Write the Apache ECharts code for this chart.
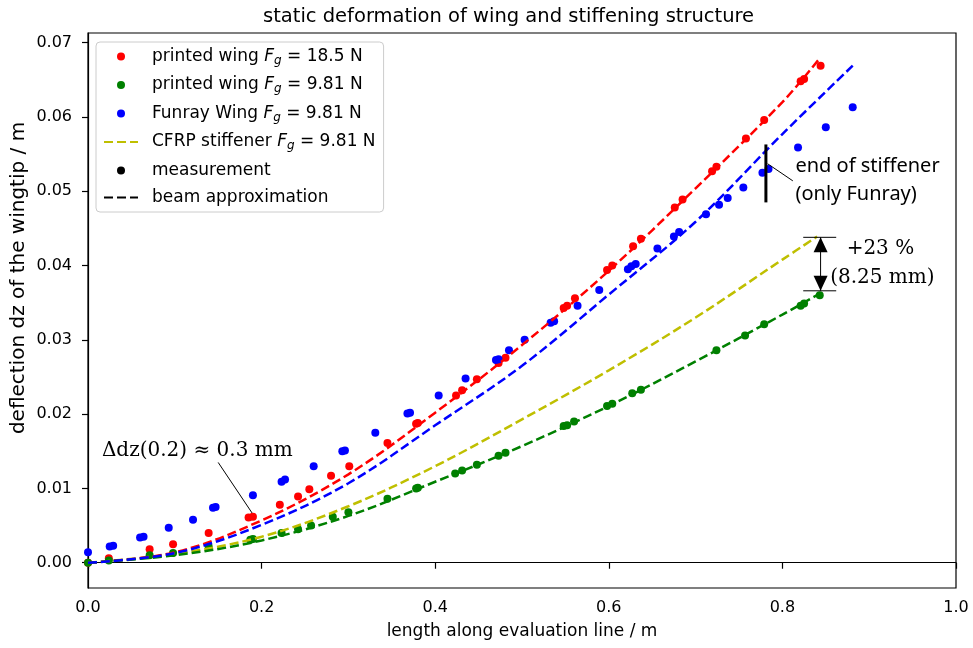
<!DOCTYPE html>
<html>
<head>
<meta charset="utf-8">
<script src="https://cdn.jsdelivr.net/npm/echarts@6/dist/echarts.min.js"></script>
<style>
    html, body { margin: 0; padding: 0; background: #fff; }
    #main { width: 973px; height: 648px; }
</style>
</head>
<body>
<div id="main"></div>
<script>
    // measured points [length, deflection]
    var printed185 = [[0,0],[0.024,0.0006],[0.071,0.0018],[0.098,0.0025],[0.139,0.0040],[0.185,0.0061],[0.190,0.0062],
        [0.221,0.0078],[0.242,0.0089],[0.255,0.0099],[0.280,0.0117],[0.301,0.0130],[0.345,0.0161],[0.378,0.0187],
        [0.380,0.0188],[0.424,0.0225],[0.431,0.0232],[0.448,0.0247],[0.473,0.0269],[0.481,0.0276],[0.548,0.0343],
        [0.552,0.0346],[0.561,0.0356],[0.598,0.0394],[0.604,0.0400],[0.628,0.0426],[0.637,0.0436],[0.676,0.0478],
        [0.685,0.0489],[0.719,0.0527],[0.724,0.0533],[0.758,0.0571],[0.779,0.0596],[0.821,0.0648],[0.825,0.0651],
        [0.844,0.0669]];
    var printed981 = [[0,0],[0.024,0.0003],[0.071,0.0010],[0.098,0.0013],[0.139,0.0022],[0.187,0.0031],[0.190,0.0032],
        [0.223,0.0040],[0.242,0.0045],[0.257,0.0050],[0.282,0.0062],[0.300,0.0068],[0.345,0.0086],[0.378,0.0100],
        [0.380,0.0101],[0.423,0.0120],[0.431,0.0124],[0.448,0.0132],[0.473,0.0144],[0.481,0.0148],[0.548,0.0184],
        [0.552,0.0185],[0.560,0.0190],[0.598,0.0211],[0.604,0.0214],[0.627,0.0228],[0.637,0.0233],[0.724,0.0286],
        [0.757,0.0306],[0.779,0.0321],[0.821,0.0346],[0.825,0.0349],[0.843,0.0360]];
    var funray981 = [[0,0.0014],[0.025,0.0022],[0.029,0.0023],[0.060,0.0034],[0.064,0.0035],[0.093,0.0047],[0.121,0.0058],
        [0.144,0.0074],[0.147,0.0075],[0.190,0.0091],[0.223,0.0109],[0.227,0.0112],[0.260,0.0130],[0.293,0.0150],
        [0.296,0.0151],[0.331,0.0175],[0.368,0.0201],[0.371,0.0202],[0.404,0.0225],[0.435,0.0248],[0.470,0.0273],
        [0.473,0.0274],[0.485,0.0286],[0.503,0.0300],[0.533,0.0323],[0.537,0.0325],[0.564,0.0346],[0.589,0.0367],
        [0.622,0.0395],[0.626,0.0399],[0.631,0.0402],[0.656,0.0423],[0.675,0.0439],[0.681,0.0445],[0.712,0.0469],
        [0.727,0.0482],[0.737,0.0491],[0.755,0.0505],[0.777,0.0525],[0.784,0.0530],[0.818,0.0559],[0.850,0.0586],
        [0.881,0.0613]];

    // beam approximation curves
    var beam185 = [[0,0],[0.1,0.0014],[0.2,0.0057],[0.3,0.0119],[0.4,0.0202],[0.5,0.0293],[0.6,0.0393],[0.7,0.0504],[0.8,0.0620],[0.843,0.0679]];
    var beam981 = [[0,0],[0.1,0.0010],[0.2,0.0030],[0.3,0.0063],[0.4,0.0109],[0.5,0.0157],[0.6,0.0211],[0.7,0.0271],[0.8,0.0334],[0.841,0.0361]];
    var beamFunray = [[0,0],[0.1,0.0013],[0.2,0.0051],[0.3,0.0107],[0.4,0.0185],[0.5,0.0265],[0.6,0.0361],[0.7,0.0459],[0.8,0.0577],[0.881,0.0669]];
    var beamCfrp = [[0,0],[0.1,0.0012],[0.2,0.0035],[0.3,0.0076],[0.4,0.0130],[0.5,0.0193],[0.6,0.0259],[0.7,0.0330],[0.8,0.0408],[0.840,0.0439]];

    var yTicks = [0, 0.01, 0.02, 0.03, 0.04, 0.05, 0.06, 0.07];

    var legendText = {
        pw185: '{g| }{t|printed wing }{i|F}{s|g}{t| = 18.5 N}',
        pw981: '{g| }{t|printed wing }{i|F}{s|g}{t| = 9.81 N}',
        funray: '{g| }{t|Funray Wing }{i|F}{s|g}{t| = 9.81 N}',
        cfrp: '{g| }{t|CFRP stiffener }{i|F}{s|g}{t| = 9.81 N}',
        measurement: '{g| }{t|measurement}',
        beam: '{g| }{t|beam approximation}'
    };
    var noDot = { color: 'rgba(0,0,0,0)', borderWidth: 0 };

    var font = 'DejaVu Sans';
    var dash = [9, 4];

    var chart = echarts.init(document.getElementById('main'));

    function beamLine(name, data, color) {
        return {
            name: name,
            type: 'line',
            data: data,
            smooth: 0.35,
            symbol: 'none',
            lineStyle: { color: color, width: 2.5, type: dash },
            itemStyle: { color: color },
            z: 3
        };
    }

    function dots(name, data, color) {
        return {
            name: name,
            type: 'scatter',
            data: data,
            symbol: 'circle',
            symbolSize: 8,
            itemStyle: { color: color, opacity: 1 },
            z: 2
        };
    }

    var option = {
        animation: false,
        backgroundColor: '#fff',
        title: {
            text: 'static deformation of wing and stiffening structure',
            left: 258,
            top: 2,
            textStyle: { fontFamily: font, fontSize: 19.5, fontWeight: 'normal', color: '#000' }
        },
        grid: {
            left: 88, right: 17, top: 33, bottom: 60,
            show: true, borderColor: '#000', borderWidth: 1.2
        },
        legend: {
            data: [
                { name: 'pw185' },
                { name: 'pw981' },
                { name: 'funray' },
                { name: 'cfrp', itemStyle: noDot },
                { name: 'measurement' },
                { name: 'beam', itemStyle: noDot }
            ],
            orient: 'vertical',
            left: 96,
            top: 42,
            padding: [6, 8, 6, 7],
            itemWidth: 34,
            itemHeight: 8,
            itemGap: 10,
            backgroundColor: '#fff',
            borderColor: '#ccc',
            borderWidth: 1,
            borderRadius: 4,
            formatter: function (name) { return legendText[name]; },
            textStyle: {
                color: '#000',
                rich: {
                    g: { width: 9 },
                    t: { fontFamily: font, fontSize: 17, color: '#000' },
                    i: { fontFamily: font, fontSize: 17, fontStyle: 'italic', color: '#000' },
                    s: { fontFamily: font, fontSize: 12, fontStyle: 'italic', color: '#000', padding: [8, 0, 0, 0] }
                }
            }
        },
        xAxis: {
            type: 'value',
            min: 0, max: 1, interval: 0.2,
            name: 'length along evaluation line / m',
            nameLocation: 'middle',
            nameGap: 35,
            nameTextStyle: { fontFamily: font, fontSize: 17, color: '#000' },
            axisLine: { show: true, lineStyle: { color: '#000', width: 1.2 } },
            axisTick: { show: true, length: 6, lineStyle: { color: '#000', width: 1.2 } },
            axisLabel: { margin: 12, fontFamily: font, fontSize: 16, color: '#000',
                formatter: function (v) { return v.toFixed(1); } },
            splitLine: { show: false }
        },
        yAxis: {
            type: 'value',
            min: -0.0034, max: 0.0713,
            axisLine: { show: true, lineStyle: { color: '#000', width: 1.2 } },
            axisTick: { show: true, length: 6, customValues: yTicks, lineStyle: { color: '#000', width: 1.2 } },
            axisLabel: { margin: 16, fontFamily: font, fontSize: 16, color: '#000', customValues: yTicks,
                formatter: function (v) { return v.toFixed(2); } },
            splitLine: { show: false }
        },
        series: [
            dots('pw185', printed185, '#ff0000'),
            dots('pw981', printed981, '#008000'),
            dots('funray', funray981, '#0000ff'),
            beamLine('cfrp', beamCfrp, '#bfbf00'),
            dots('measurement', [], '#000'),
            beamLine('beam', [], '#000'),
            beamLine('beam185', beam185, '#ff0000'),
            beamLine('beam981', beam981, '#008000'),
            beamLine('beamFunray', beamFunray, '#0000ff')
        ]
    };

    chart.setOption(option);

    // annotations, placed in data coordinates
    function px(x, y) {
        return chart.convertToPixel({ gridIndex: 0 }, [x, y]);
    }
    function seg(a, b, w) {
        var p = px(a[0], a[1]), q = px(b[0], b[1]);
        return { type: 'line', shape: { x1: p[0], y1: p[1], x2: q[0], y2: q[1] },
            style: { stroke: '#000', lineWidth: w || 1 }, z: 10 };
    }
    function label(x, y, text, family) {
        var p = px(x, y);
        return { type: 'text', x: p[0], y: p[1], z: 10,
            style: { text: text, fill: '#000', fontFamily: family, fontSize: 20, verticalAlign: 'middle', align: 'left' } };
    }

    var arrUp = px(0.844, 0.0438), arrDown = px(0.844, 0.0366);
    var graphics = [
        {
            type: 'text', x: 19, y: 278, rotation: Math.PI / 2, z: 10,
            style: { text: 'deflection dz of the wingtip / m', fill: '#000', fontFamily: font, fontSize: 20,
                align: 'center', verticalAlign: 'middle' }
        },
        label(0.016, 0.0151, 'Δdz(0.2) ≈ 0.3 mm', 'DejaVu Serif'),
        seg([0.150, 0.0135], [0.189, 0.0067]),
        seg([0.781, 0.0485], [0.781, 0.0563], 3),
        seg([0.783, 0.0537], [0.812, 0.0514]),
        label(0.815, 0.0534, 'end of stiffener', 'Noto Sans'),
        label(0.815, 0.0496, '(only Funray)', 'Noto Sans'),
        seg([0.844, 0.0366], [0.844, 0.0438]),
        seg([0.824, 0.0438], [0.862, 0.0438]),
        seg([0.824, 0.0366], [0.862, 0.0366]),
        { type: 'polygon', z: 10,
            shape: { points: [[arrUp[0], arrUp[1]], [arrUp[0] - 7, arrUp[1] + 15], [arrUp[0] + 7, arrUp[1] + 15]] },
            style: { fill: '#000' } },
        { type: 'polygon', z: 10,
            shape: { points: [[arrDown[0], arrDown[1]], [arrDown[0] - 7, arrDown[1] - 15], [arrDown[0] + 7, arrDown[1] - 15]] },
            style: { fill: '#000' } },
        label(0.874, 0.0422, '+23 %', 'DejaVu Serif'),
        label(0.855, 0.0384, '(8.25 mm)', 'DejaVu Serif')
    ];
    chart.setOption({ graphic: graphics });
</script>
</body>
</html>
